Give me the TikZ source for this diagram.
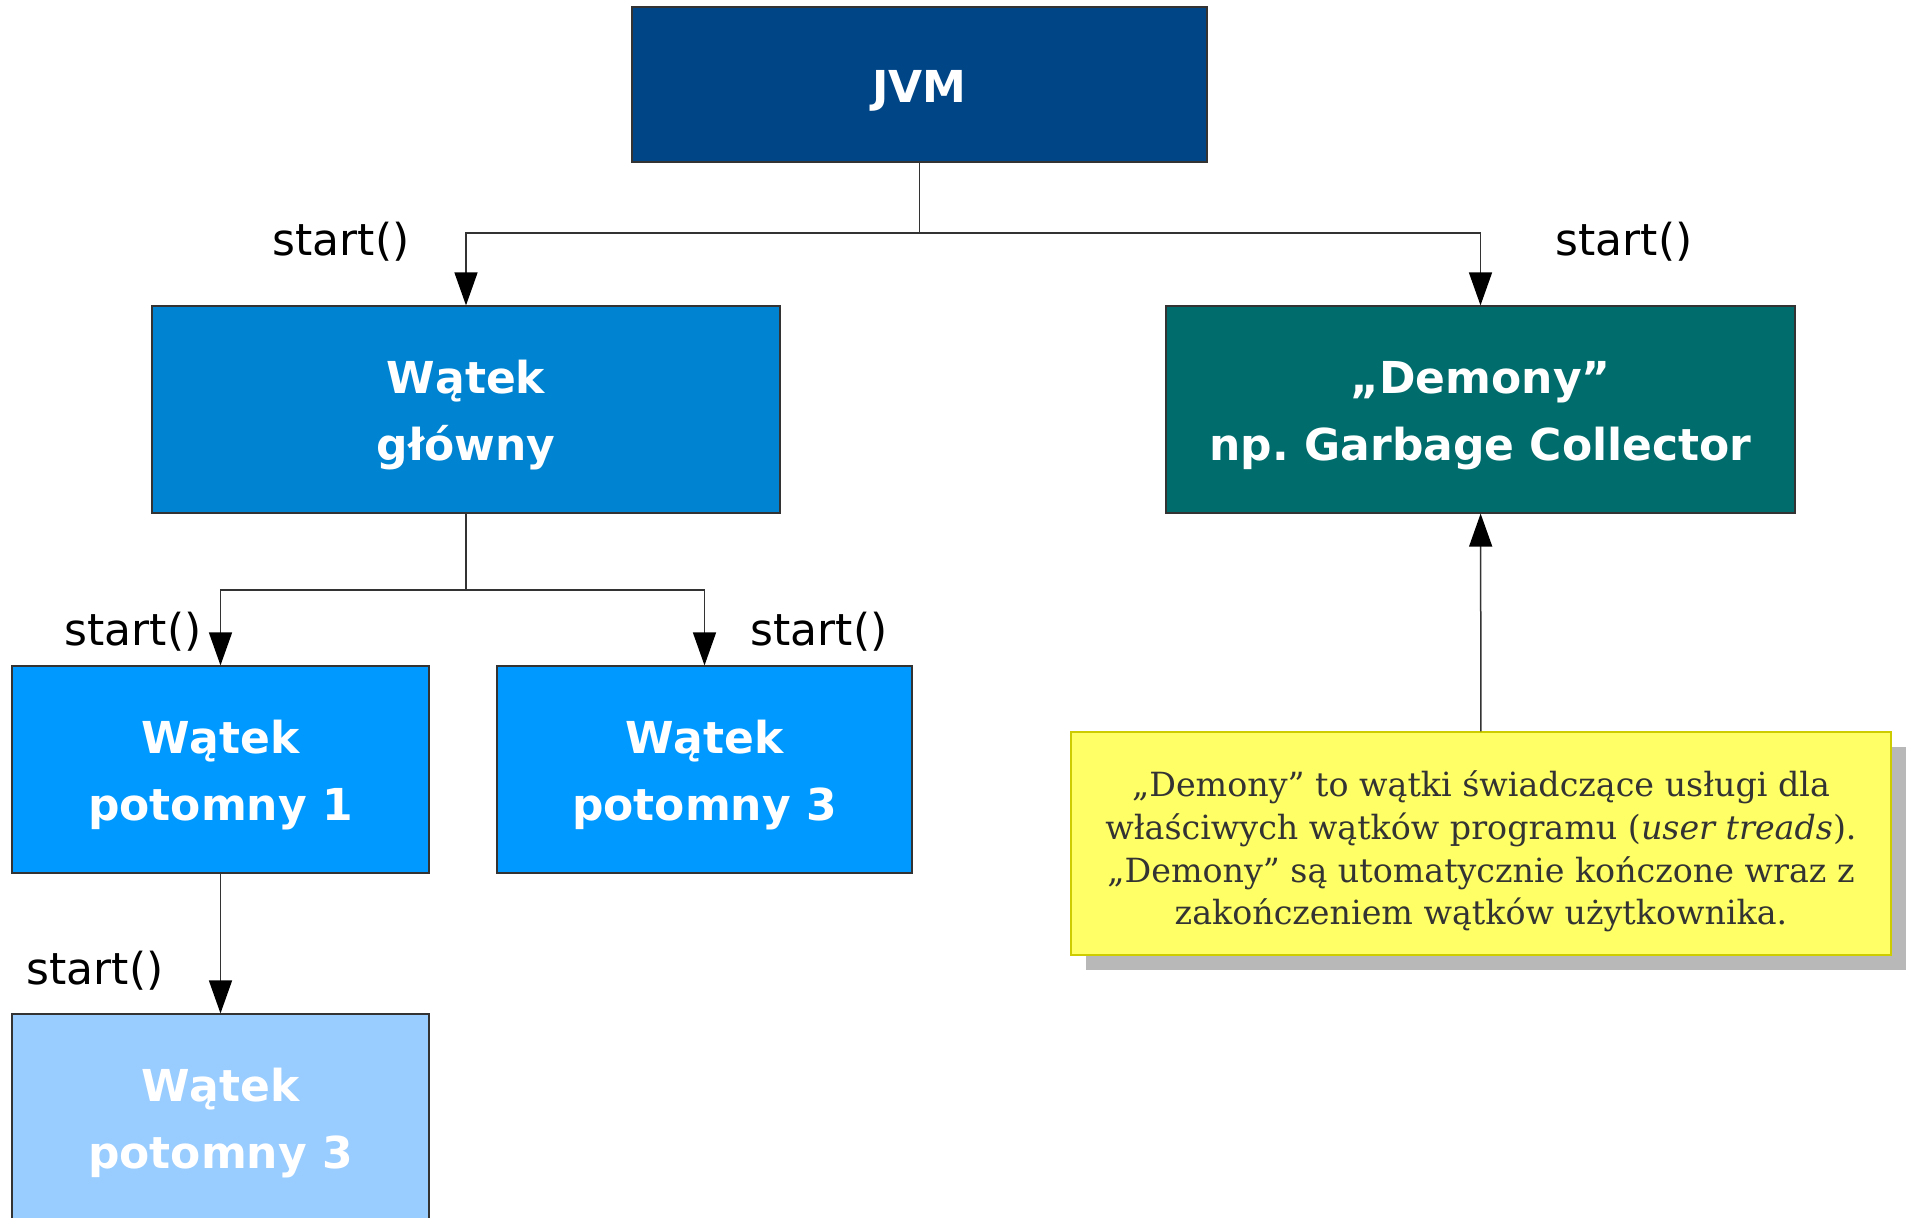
\documentclass[tikz,border=0pt]{standalone}
\usepackage{fontspec}
\setmainfont{DejaVu Sans}
\newfontfamily\notefont{DejaVu Serif}
\frenchspacing
\usepackage{tikz}
\usetikzlibrary{arrows.meta,positioning,shadows}
\definecolor{jvmblue}{RGB}{0,69,134}
\definecolor{mainblue}{RGB}{0,132,209}
\definecolor{childblue}{RGB}{0,153,255}
\definecolor{paleblue}{RGB}{153,204,255}
\definecolor{daemonteal}{RGB}{0,108,108}
\definecolor{noteyellow}{RGB}{255,255,102}
\definecolor{noteborder}{RGB}{204,204,0}
\definecolor{boxline}{RGB}{51,51,51}
\definecolor{notetext}{RGB}{51,51,51}
% struts that push the first line down a little
\newcommand{\threadstrut}{\rule{0pt}{45pt}}
\newcommand{\notestrut}{\rule{0pt}{42pt}}

\begin{document}
\begin{tikzpicture}[
    x=1pt, y=-1pt,
    thread/.style={draw=boxline, line width=1.2pt, inner sep=0pt, text=white, align=center,
        font=\bfseries\fontsize{44}{67}\selectfont, minimum height=207pt},
    note/.style={draw=noteborder, line width=1.2pt, fill=noteyellow, inner sep=0pt, align=center,
        minimum width=820pt, minimum height=223pt, text=notetext,
        font=\notefont\fontsize{33.3}{42.6}\selectfont,
        drop shadow={shadow xshift=15pt, shadow yshift=-15pt, fill=black!28, opacity=1}},
    call/.style={font=\fontsize{44}{50}\selectfont, inner sep=0pt},
    arr/.style={-{Triangle[length=33pt,width=23pt,color=black]}, line width=1.5pt, draw=boxline}
]
    \useasboundingbox (0,0) rectangle (1909,1218);

    \node[thread, fill=jvmblue, minimum width=575pt, minimum height=155pt] (jvm) at (919.5,84.5) {\threadstrut JVM};
    \node[thread, fill=mainblue, minimum width=628pt] (main) at (466,409.5) {\threadstrut Wątek\\główny};
    \node[thread, fill=daemonteal, minimum width=629pt] (daemon) at (1480.5,409.5) {\threadstrut„Demony”\\np. Garbage Collector};
    \node[thread, fill=childblue, minimum width=417pt] (child1) at (220.5,769.5) {\threadstrut Wątek\\potomny 1};
    \node[thread, fill=childblue, minimum width=415pt] (child3) at (704.5,769.5) {\threadstrut Wątek\\potomny 3};
    \node[thread, fill=paleblue, minimum width=417pt] (grandchild) at (220.5,1117.5) {\threadstrut Wątek\\potomny 3};

    \node[note] (info) at (1481,843.5) {\notestrut„Demony” to wątki świadczące usługi dla\\właściwych wątków programu (\textit{user treads}).\\„Demony” są utomatycznie kończone wraz z\\zakończeniem wątków użytkownika.};

    \coordinate (jvmbar) at (919.5,233);
    \coordinate (mainbar) at (466,590);

    \draw[arr] (jvm.south) -- (jvmbar) -| (main.north);
    \draw[arr] (jvmbar) -| (daemon.north);
    \draw[arr] (main.south) -- (mainbar) -| (child1.north);
    \draw[arr] (mainbar) -| (child3.north);
    \draw[arr] (child1) -- (grandchild);
    \draw[arr] (info) -- (daemon);

    \node[call] (callmain) at (341,242) {start()};
    \node[call] (calldaemon) at (1624,242) {start()};
    \node[call] (callchild1) at (133,632) {start()};
    \node[call] (callchild3) at (819,632) {start()};
    \node[call] (callgrand) at (95,971) {start()};
\end{tikzpicture}
\end{document}
